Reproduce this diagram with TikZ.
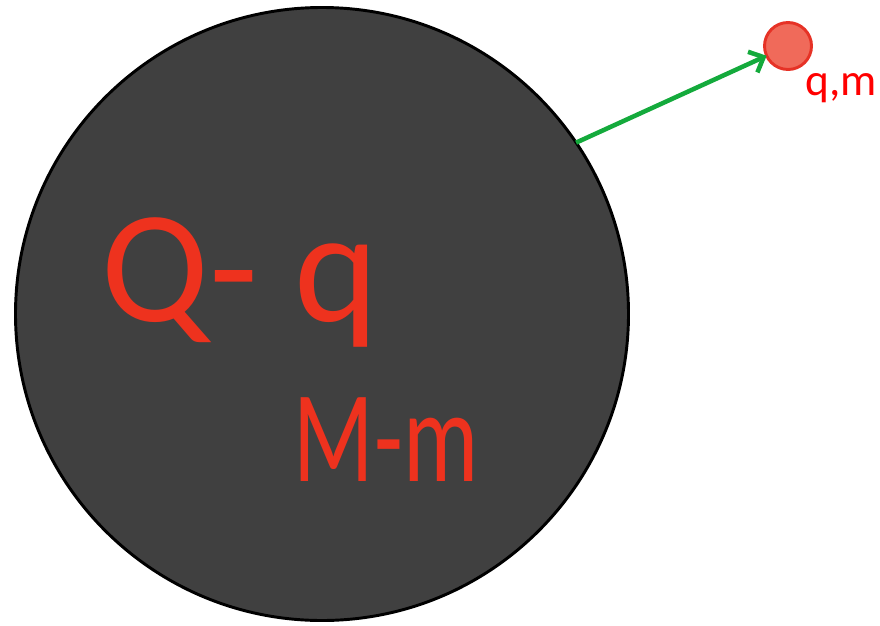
\documentclass[tikz,border=0pt]{standalone}
\usepackage{fontspec}
\setmainfont{Carlito}
\usetikzlibrary{arrows.meta}
\definecolor{bodygray}{RGB}{64,64,64}
\definecolor{inkred}{RGB}{238,50,30}
\definecolor{partfill}{RGB}{240,106,90}
\definecolor{partdraw}{RGB}{230,50,38}
\definecolor{arrowgreen}{RGB}{20,170,60}
\begin{document}
\begin{tikzpicture}[x=0.75pt,y=-0.75pt]
  % Define body, particle and ink styles
  \tikzstyle{mybody} = [circle, draw=black, fill=bodygray, line width=2.2pt,
  minimum size=613*0.75pt, inner sep=0pt, outer sep=0pt]
  \tikzstyle{myparticle} = [circle, draw=partdraw, fill=partfill, line width=2.2pt,
  minimum size=47*0.75pt, inner sep=0pt, outer sep=0pt]
  \tikzstyle{inktext} = [text=inkred, inner sep=0pt]

  \useasboundingbox (0,0) rectangle (880,625);

  \node [mybody] (body) at (322,314) {};
  \node [myparticle] (particle) at (788,46) {};
  \node [text=red, inner sep=0pt, font=\fontsize{34}{34}\selectfont]
    (label) at (841,88) {q,m};

  \node [inktext, font=\fontsize{120}{120}\selectfont] (charge) at (240,282) {Q- q};
  \node [inktext, xscale=0.72, transform shape, font=\fontsize{98}{98}\selectfont]
    (mass) at (386,440) {M-m};

  \draw [arrowgreen, line width=3.4pt, -{Straight Barb[length=9pt,width=17pt]}]
    (body.34) -- (particle);
\end{tikzpicture}
\end{document}
